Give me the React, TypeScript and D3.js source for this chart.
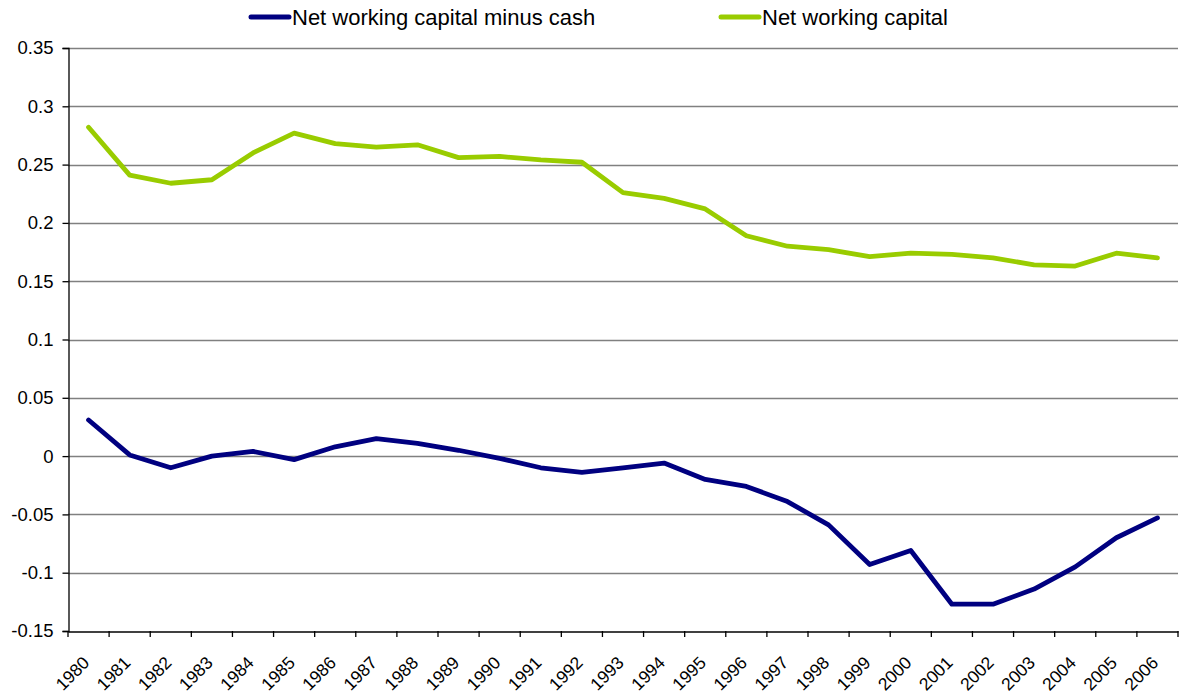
import React, { useRef, useEffect } from "react";
import * as d3 from "d3";

const years: string[] = [
  "1980", "1981", "1982", "1983", "1984", "1985", "1986", "1987", "1988",
  "1989", "1990", "1991", "1992", "1993", "1994", "1995", "1996", "1997",
  "1998", "1999", "2000", "2001", "2002", "2003", "2004", "2005", "2006",
];

const nwcMinusCash: number[] = [
  0.031, 0.001, -0.01, 0.0, 0.004, -0.003, 0.008, 0.015, 0.011,
  0.005, -0.002, -0.01, -0.014, -0.01, -0.006, -0.02, -0.026, -0.039,
  -0.059, -0.093, -0.081, -0.127, -0.127, -0.114, -0.095, -0.07, -0.053,
];

const nwc: number[] = [
  0.282, 0.241, 0.234, 0.237, 0.26, 0.277, 0.268, 0.265, 0.267,
  0.256, 0.257, 0.254, 0.252, 0.226, 0.221, 0.212, 0.189, 0.18,
  0.177, 0.171, 0.174, 0.173, 0.17, 0.164, 0.163, 0.174, 0.17,
];

const yTicks: number[] = [-0.15, -0.1, -0.05, 0, 0.05, 0.1, 0.15, 0.2, 0.25, 0.3, 0.35];

const series = [
  { name: "Net working capital minus cash", values: nwcMinusCash, color: "#000080" },
  { name: "Net working capital", values: nwc, color: "#99CC00" },
];

const W = 1179;
const H = 698;
const FONT = "'Liberation Sans', Arial, sans-serif";

const App: React.FC = () => {
  const ref = useRef<SVGSVGElement | null>(null);

  useEffect(() => {
    if (!ref.current) return;
    const svg = d3.select(ref.current);
    svg.selectAll("*").remove();

    const left = 68;
    const right = 1178;
    const top = 48;
    const bottom = 631;

    const x = d3.scaleBand<string>().domain(years).range([left, right]);
    const y = d3.scaleLinear().domain([-0.15, 0.35]).range([bottom, top]);
    const cx = (i: number) => (x(years[i]) as number) + x.bandwidth() / 2;

    // gridlines
    svg
      .append("g")
      .selectAll("line")
      .data(yTicks.filter((t) => t !== -0.15))
      .enter()
      .append("line")
      .attr("x1", left)
      .attr("x2", right)
      .attr("y1", (d) => Math.round(y(d)) + 0.5)
      .attr("y2", (d) => Math.round(y(d)) + 0.5)
      .attr("stroke", "#808080")
      .attr("stroke-width", 1.3);

    // y axis
    const yAxis = svg
      .append("g")
      .attr("transform", `translate(${left + 0.5},0)`)
      .call(
        d3
          .axisLeft(y)
          .tickValues(yTicks)
          .tickSize(6)
          .tickPadding(9)
          .tickFormat((d) => String(+(d as number).toFixed(2)))
      );
    yAxis.select(".domain").attr("stroke", "#000").attr("stroke-width", 1.3);
    yAxis.selectAll(".tick line").attr("stroke", "#000").attr("stroke-width", 1.3);
    yAxis
      .selectAll(".tick text")
      .attr("font-family", FONT)
      .attr("font-size", 18.5)
      .attr("fill", "#000");

    // x axis
    const xAxis = svg
      .append("g")
      .attr("transform", `translate(0,${bottom + 0.5})`)
      .call(d3.axisBottom(x).tickSize(0).tickFormat(() => ""));
    xAxis.select(".domain").attr("stroke", "#000").attr("stroke-width", 1.3);

    svg
      .append("g")
      .selectAll("line")
      .data(d3.range(years.length + 1))
      .enter()
      .append("line")
      .attr("x1", (i) => left + i * x.step())
      .attr("x2", (i) => left + i * x.step())
      .attr("y1", bottom)
      .attr("y2", bottom + 6)
      .attr("stroke", "#000")
      .attr("stroke-width", 1.3);

    svg
      .append("g")
      .selectAll("text")
      .data(years)
      .enter()
      .append("text")
      .attr("transform", (_, i) => `translate(${cx(i) - 7},${bottom + 24}) rotate(-45)`)
      .attr("text-anchor", "end")
      .attr("dy", "0.72em")
      .attr("font-family", FONT)
      .attr("font-size", 17.5)
      .attr("fill", "#000")
      .text((d) => d);

    // lines
    const line = d3
      .line<number>()
      .x((_, i) => cx(i))
      .y((d) => y(d));

    svg
      .append("g")
      .selectAll("path")
      .data(series)
      .enter()
      .append("path")
      .attr("d", (s) => line(s.values) as string)
      .attr("fill", "none")
      .attr("stroke", (s) => s.color)
      .attr("stroke-width", 4.8)
      .attr("stroke-linejoin", "round")
      .attr("stroke-linecap", "round");

    // legend
    const legendX = [251, 721];
    const lg = svg
      .append("g")
      .selectAll("g")
      .data(series)
      .enter()
      .append("g")
      .attr("transform", (_, i) => `translate(${legendX[i]},17)`);
    lg.append("line")
      .attr("x1", 0)
      .attr("x2", 38)
      .attr("y1", 0)
      .attr("y2", 0)
      .attr("stroke", (s) => s.color)
      .attr("stroke-width", 5)
      .attr("stroke-linecap", "round");
    lg.append("text")
      .attr("x", 41)
      .attr("y", 0)
      .attr("dy", "0.36em")
      .attr("font-family", FONT)
      .attr("font-size", 22)
      .attr("fill", "#000")
      .text((s) => s.name);
  }, []);

  return (
    <svg
      ref={ref}
      width={W}
      height={H}
      style={{ position: "absolute", left: 0, top: 0, background: "#fff" }}
    />
  );
};

export default App;
